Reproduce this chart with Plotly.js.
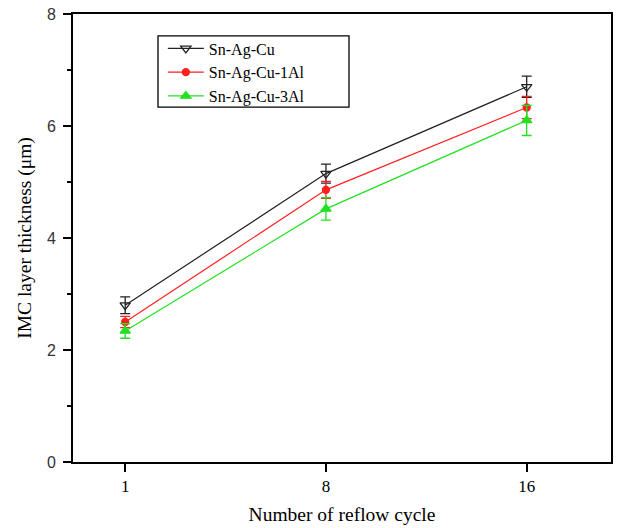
<!DOCTYPE html>
<html>
<head>
<meta charset="utf-8">
<script src="https://cdn.plot.ly/plotly-3.0.1.min.js"></script>
<style>html,body{margin:0;padding:0;background:#fff;}#chart{width:628px;height:528px;}</style>
</head>
<body>
<div id="chart"></div>
<script>
const cycles = ['1', '8', '16'];
const sacY = [2.80, 5.15, 6.70];
const sacErr = [0.15, 0.17, 0.19];
const al1Y = [2.50, 4.86, 6.33];
const al1Err = [0.10, 0.15, 0.20];
const al3Y = [2.34, 4.52, 6.10];
const al3Err = [0.13, 0.20, 0.27];
const names = ['Sn-Ag-Cu', 'Sn-Ag-Cu-1Al', 'Sn-Ag-Cu-3Al'];

function tr(y, e, name, color, sym, sz) {
  return {
    x: cycles, y: y, name: name, type: 'scatter', mode: 'lines+markers',
    line: {color: color, width: 1.2},
    marker: {symbol: sym, size: sz, color: color, line: {color: color, width: 1.3}},
    error_y: {type: 'data', array: e, visible: true, color: color, thickness: 1.3, width: 5}
  };
}
const data = [
  tr(sacY, sacErr, names[0], '#222222', 'triangle-down-open', 9),
  tr(al1Y, al1Err, names[1], '#ff2020', 'circle', 7),
  tr(al3Y, al3Err, names[2], '#22e022', 'triangle-up', 9)
];
const layout = {
  width: 628, height: 528,
  margin: {l: 73, r: 17, t: 14, b: 66},
  paper_bgcolor: '#fff', plot_bgcolor: '#fff',
  showlegend: true,
  legend: {x: 0.167, y: 0.961, xanchor: 'left', yanchor: 'top',
    borderwidth: 0, bgcolor: 'rgba(0,0,0,0)', itemwidth: 36,
    font: {family: 'Liberation Serif, Times New Roman, serif', size: 16, color: '#000'},
    tracegroupgap: 0},
  shapes: [{type: 'rect', xref: 'paper', yref: 'paper',
    x0: 0.158, x1: 0.513, y0: 0.792, y1: 0.951,
    line: {color: '#000', width: 1.3}, fillcolor: 'rgba(0,0,0,0)', layer: 'above'}],
  xaxis: {
    type: 'category', range: [-0.26, 2.42],
    showline: true, linecolor: '#000', linewidth: 2, mirror: true,
    ticks: 'outside', ticklen: 8, tickwidth: 2, tickcolor: '#000',
    showgrid: false, zeroline: false,
    tickfont: {family: 'Liberation Serif, Times New Roman, serif', size: 17, color: '#000'},
    title: {text: 'Number of reflow cycle', standoff: 12,
      font: {family: 'Liberation Serif, Times New Roman, serif', size: 19.5, color: '#000'}}
  },
  yaxis: {
    range: [0, 8], dtick: 2,
    showline: true, linecolor: '#000', linewidth: 2, mirror: true,
    ticks: 'outside', ticklen: 8, tickwidth: 2, tickcolor: '#000',
    ticklabelstandoff: 4,
    minor: {dtick: 1, ticks: 'outside', ticklen: 4, tickwidth: 1.5, tickcolor: '#000', showgrid: false},
    showgrid: false, zeroline: false,
    tickfont: {family: 'Liberation Sans, Arial, sans-serif', size: 16, color: '#333'},
    title: {text: 'IMC layer thickness (μm)', standoff: 10,
      font: {family: 'Liberation Serif, Times New Roman, serif', size: 19.5, color: '#000'}}
  }
};
Plotly.newPlot('chart', data, layout, {displayModeBar: false, staticPlot: true});
</script>
</body>
</html>
